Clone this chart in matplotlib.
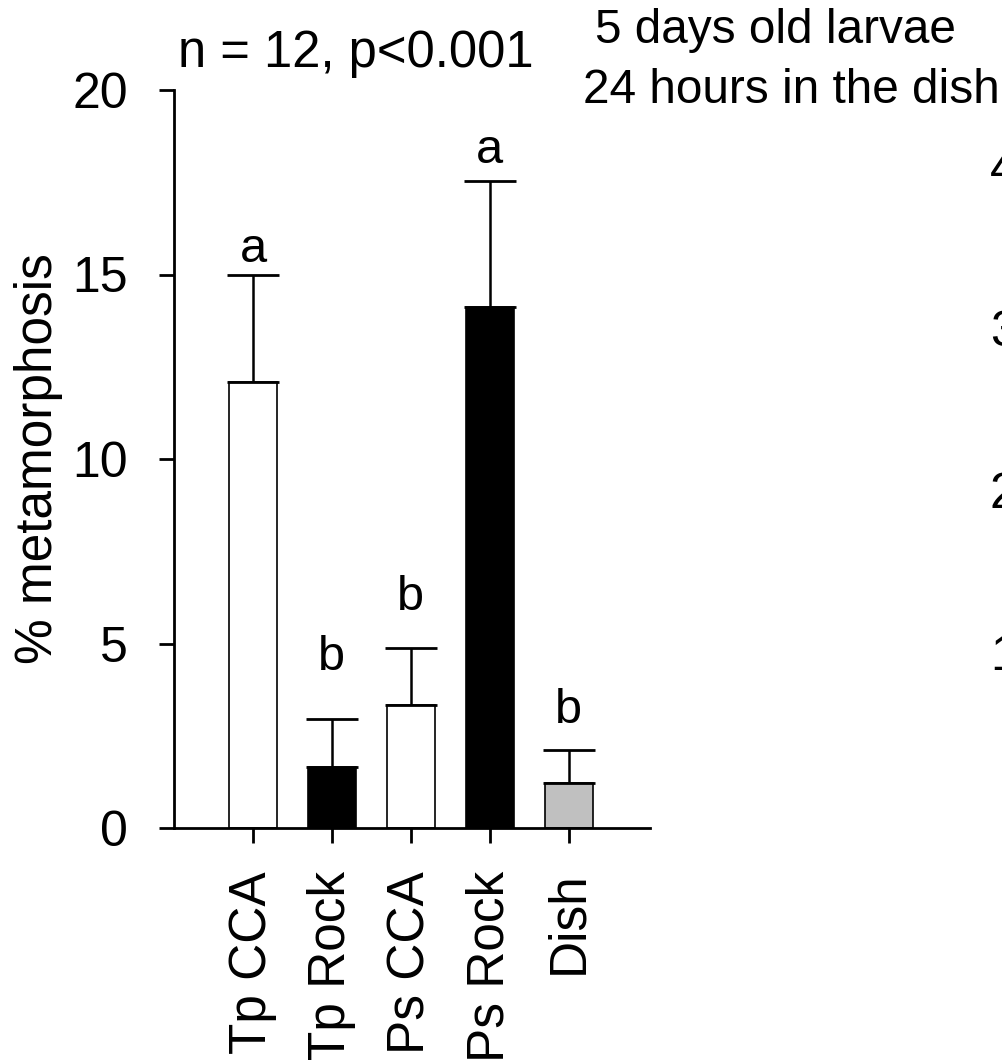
import numpy as np
import matplotlib
matplotlib.use("Agg")
import matplotlib.pyplot as plt

plt.rcParams["font.family"] = ["Liberation Sans", "DejaVu Sans"]

# treatments and mean % metamorphosis (+ SE, upper bar only)
treatments = ["Tp CCA", "Tp Rock", "Ps CCA", "Ps Rock", "Dish"]
mean_meta = [12.1, 1.65, 3.32, 14.12, 1.22]
se_meta = [2.9, 1.3, 1.55, 3.42, 0.9]
bar_colors = ["white", "black", "white", "black", "#c0c0c0"]

# post-hoc group letters and their heights
group_letters = ["a", "b", "b", "a", "b"]
letter_y = [15.35, 4.28, 5.92, 18.02, 2.85]

y_ticks = [0, 5, 10, 15, 20]
# tick labels of the neighbouring panel, mostly off the right edge
side_ticks = ["40", "30", "20", "10"]
side_tick_y = [171, 333, 495, 657]

W, H = 1003, 1060

fig = plt.figure(figsize=(W / 100, H / 100), dpi=100)
ax = fig.add_axes([174 / W, 1 - 828 / H, 476 / W, 738 / H])

x = np.arange(len(treatments))
ax.bar(x, mean_meta, width=0.61, color=bar_colors, edgecolor="black",
       linewidth=1.2, zorder=2)
ax.errorbar(x, mean_meta, yerr=[np.zeros(len(x)), se_meta], fmt="none",
            ecolor="black", elinewidth=1.8, capsize=19, capthick=2.0, zorder=3)

for xi, lab, ly in zip(x, group_letters, letter_y):
    ax.text(xi, ly, lab, ha="center", va="baseline", fontsize=35)

ax.set_xlim(-1.0, 5.03)
ax.set_ylim(0, 20)
ax.set_yticks(y_ticks)
ax.set_xticks(x)
ax.set_xticklabels(treatments, rotation=90, fontsize=37)
ax.tick_params(axis="y", labelsize=36, length=11, width=2, pad=22)
ax.tick_params(axis="x", length=11, width=2, pad=20)

for side in ["top", "right"]:
    ax.spines[side].set_visible(False)
for side in ["left", "bottom"]:
    ax.spines[side].set_linewidth(2)

ax.set_ylabel("% metamorphosis", fontsize=37)
ax.yaxis.set_label_coords(-0.233, 0.5)

fig.text(178 / W, 1 - 67 / H, "n = 12, p<0.001", fontsize=36.5,
         ha="left", va="baseline")
fig.text(595 / W, 1 - 43 / H, "5 days old larvae", fontsize=34.4,
         ha="left", va="baseline")
fig.text(583 / W, 1 - 103 / H, "24 hours in the dish", fontsize=34.4,
         ha="left", va="baseline")

for lab, ty in zip(side_ticks, side_tick_y):
    fig.text(990 / W, 1 - ty / H, lab, fontsize=36, ha="left", va="center")

fig.savefig("out.png", dpi=100)
